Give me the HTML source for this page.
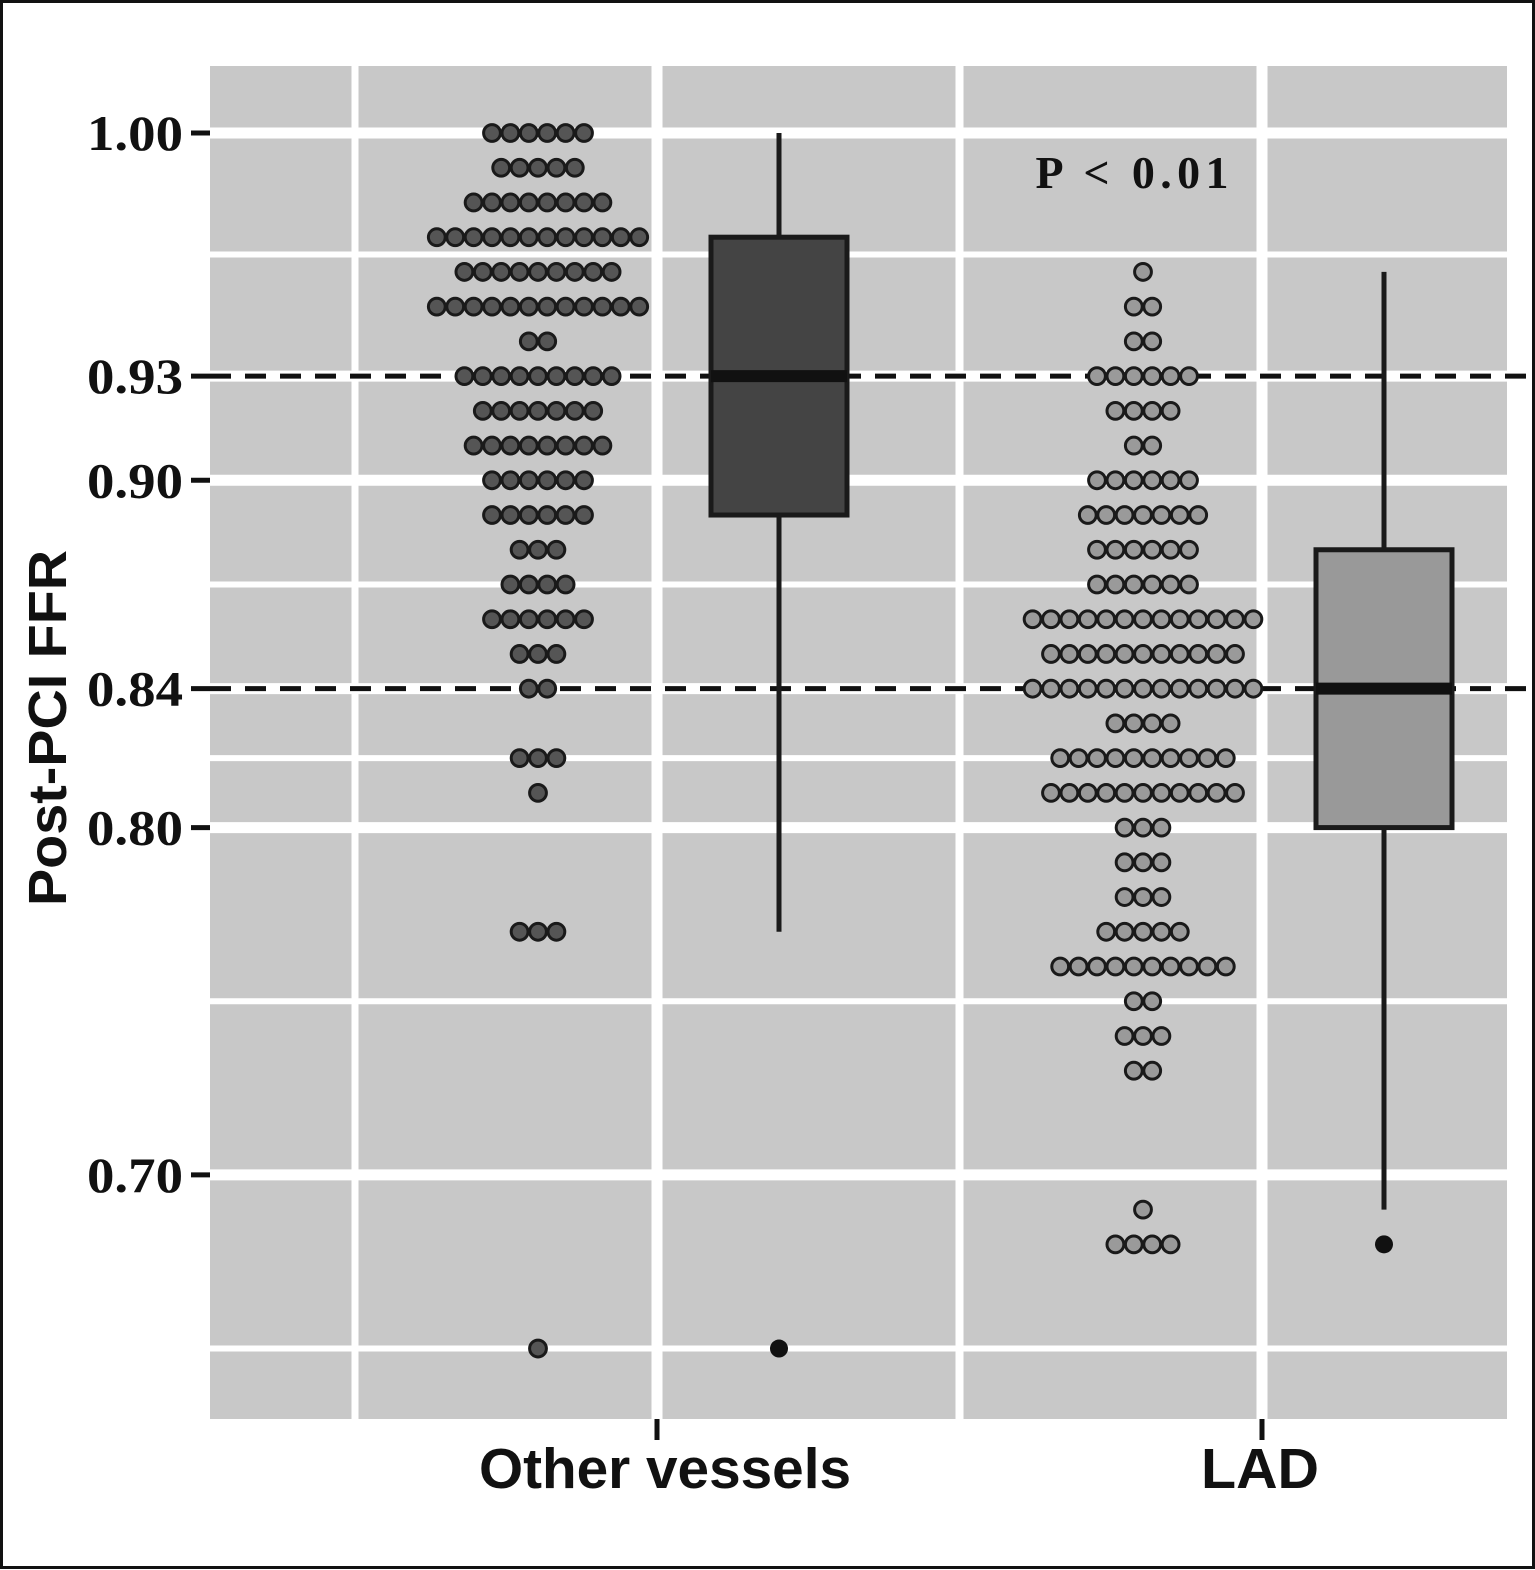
<!DOCTYPE html>
<html><head><meta charset="utf-8"><style>
html,body{margin:0;padding:0;background:#fff}
svg{display:block}
</style></head><body>
<svg id="chart" width="1535" height="1570" xmlns="http://www.w3.org/2000/svg">
<rect x="1.5" y="1.5" width="1532" height="1566" fill="#fff" stroke="#111" stroke-width="3"/>
<rect x="210" y="66" width="1297" height="1353" fill="#c8c8c8"/>
<g id="grid"></g>
<g id="refs"></g>
<g id="dots"></g>
<g id="boxes"></g>
<g id="axes"></g>
<text x="1132" y="188" text-anchor="middle" font-family="Liberation Serif, serif" font-weight="bold" font-size="46" fill="#111" textLength="193" lengthAdjust="spacing">P &lt; 0.01</text>
<text transform="translate(66,728) rotate(-90)" text-anchor="middle" font-family="Liberation Sans, sans-serif" font-weight="bold" font-size="54" fill="#111" textLength="356" lengthAdjust="spacingAndGlyphs">Post-PCI FFR</text>
</svg>
<script>
const categories = ["Other vessels", "LAD"];
const yTicks = [0.70, 0.80, 0.84, 0.90, 0.93, 1.00];
const yTickLabels = ["0.70", "0.80", "0.84", "0.90", "0.93", "1.00"];
const yMinor = [0.65, 0.75, 0.82, 0.87, 0.965];
const refLines = [0.84, 0.93];
const otherValues = [1.00,0.99,0.98,0.97,0.96,0.95,0.94,0.93,0.92,0.91,0.90,0.89,0.88,0.87,0.86,0.85,0.84,0.82,0.81,0.77,0.65];
const otherCounts = [6,5,8,12,9,12,2,9,7,8,6,6,3,4,6,3,2,3,1,3,1];
const ladValues = [0.96,0.95,0.94,0.93,0.92,0.91,0.90,0.89,0.88,0.87,0.86,0.85,0.84,0.83,0.82,0.81,0.80,0.79,0.78,0.77,0.76,0.75,0.74,0.73,0.69,0.68];
const ladCounts = [1,2,2,6,4,2,6,7,6,6,13,11,13,4,10,11,3,3,3,5,10,2,3,2,1,4];
// box stats: [whiskerLow, q1, median, q3, whiskerHigh]
const otherBox = [0.77, 0.89, 0.93, 0.97, 1.00];
const ladBox = [0.69, 0.80, 0.84, 0.88, 0.96];
const otherOutliers = [0.65];
const ladOutliers = [0.68];

const NS = "http://www.w3.org/2000/svg";
const PX0 = 210, PX1 = 1507, PY0 = 66, PY1 = 1419;
function y(v){ return 133 + (1.00 - v) * 3473; }
function xCat(i){ return 657 + i * 605; }
function xDots(i){ return xCat(i) - 119; }
function xBox(i){ return xCat(i) + 122; }
function mk(tag, attrs, parent){
  const e = document.createElementNS(NS, tag);
  for (const k in attrs) e.setAttribute(k, attrs[k]);
  parent.appendChild(e); return e;
}
const grid = document.getElementById('grid');
yMinor.forEach(v => {
  const l = mk('line', {x1:PX0, x2:PX1, y1:y(v), y2:y(v), stroke:'#fff', 'stroke-width':6}, grid);
  
  
});
yTicks.forEach(v => {
  const l = mk('line', {x1:PX0, x2:PX1, y1:y(v), y2:y(v), stroke:'#fff', 'stroke-width':11}, grid);
  
  
});
[0,1].forEach(i => {
  [xCat(i) - 302, xCat(i) + 302].forEach(x => {
    if (x > PX0 && x < PX1) {
      const l = mk('line', {x1:x, x2:x, y1:PY0, y2:PY1, stroke:'#fff', 'stroke-width':7}, grid);
      
      
    }
  });
  const l = mk('line', {x1:xCat(i), x2:xCat(i), y1:PY0, y2:PY1, stroke:'#fff', 'stroke-width':11}, grid);
  
  
});
const refs = document.getElementById('refs');
refLines.forEach(v => {
  const l = mk('line', {x1:PX0, x2:1535, y1:y(v), y2:y(v), stroke:'#111', 'stroke-width':5, 'stroke-dasharray':'21 14'}, refs);
  
  
});
const dots = document.getElementById('dots');
function drawDots(values, counts, i, fill, name){
  values.forEach((v, r) => {
    const n = counts[r];
    for (let k = 0; k < n; k++) {
      const cx = xDots(i) + (k - (n - 1) / 2) * 18.4;
      const c = mk('circle', {cx:cx, cy:y(v), r:8.4, fill:fill, stroke:'#1a1a1a', 'stroke-width':3}, dots);
      
      
    }
  });
}
drawDots(otherValues, otherCounts, 0, '#555555', 'other-vessels-dot');
drawDots(ladValues, ladCounts, 1, '#9a9a9a', 'lad-dot');
const boxes = document.getElementById('boxes');
function drawBox(b, outs, i, fill, name){
  const cx = xBox(i), hw = 68;
  const w = mk('line', {x1:cx, x2:cx, y1:y(b[0]), y2:y(b[4]), stroke:'#1a1a1a', 'stroke-width':5}, boxes);
  
  
  const r = mk('rect', {x:cx-hw, y:y(b[3]), width:2*hw, height:y(b[1])-y(b[3]), fill:fill, stroke:'#1a1a1a', 'stroke-width':5}, boxes);
  
  
  const m = mk('line', {x1:cx-hw, x2:cx+hw, y1:y(b[2]), y2:y(b[2]), stroke:'#111', 'stroke-width':12}, boxes);
  
  
  outs.forEach(v => {
    const o = mk('circle', {cx:cx, cy:y(v), r:9, fill:'#111'}, boxes);
    
    
  });
}
drawBox(otherBox, otherOutliers, 0, '#444444', 'other-vessels');
drawBox(ladBox, ladOutliers, 1, '#999999', 'lad');
const axes = document.getElementById('axes');
yTicks.forEach((v, k) => {
  const t = mk('line', {x1:191, x2:210, y1:y(v), y2:y(v), stroke:'#111', 'stroke-width':5}, axes);
  
  
  const tx = mk('text', {x:183, y:y(v)+17, 'text-anchor':'end', 'font-family':'Liberation Serif, serif', 'font-weight':'bold', 'font-size':50, fill:'#111', textLength:96, lengthAdjust:'spacingAndGlyphs'}, axes);
  tx.textContent = yTickLabels[k];
  
  
});
const xLabelW = [372, 118];
categories.forEach((c, i) => {
  const t = mk('line', {x1:xCat(i), x2:xCat(i), y1:1419, y2:1440, stroke:'#111', 'stroke-width':5}, axes);
  
  
  const tx = mk('text', {x:xCat(i)+8-i*10, y:1488, 'text-anchor':'middle', 'font-family':'Liberation Sans, sans-serif', 'font-weight':'bold', 'font-size':57, fill:'#111', textLength:xLabelW[i], lengthAdjust:'spacingAndGlyphs'}, axes);
  tx.textContent = c;
  
  
});
</script>
</body></html>
